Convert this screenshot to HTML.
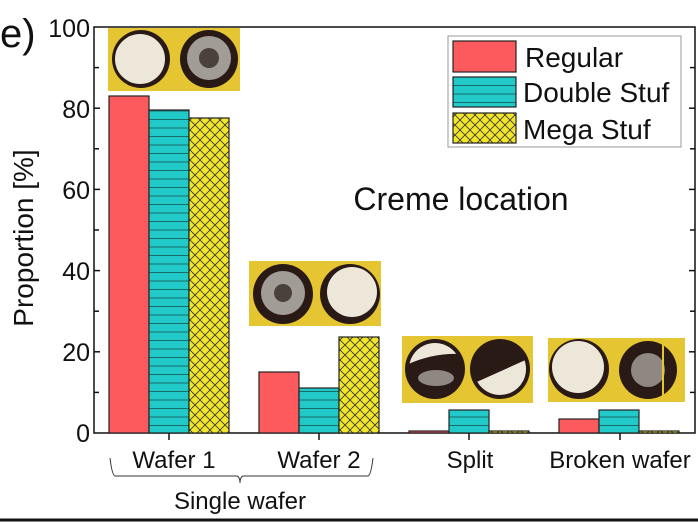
<!DOCTYPE html>
<html><head><style>body{margin:0;background:#fff}svg{display:block}text{font-family:"Liberation Sans",sans-serif;fill:#111}</style></head><body>
<svg width="698" height="522" viewBox="0 0 698 522" xmlns="http://www.w3.org/2000/svg">
<defs>
<pattern id="hz" width="8" height="8.5" patternUnits="userSpaceOnUse"><rect width="8" height="8.5" fill="#22c9c9"/><line x1="0" y1="0.5" x2="8" y2="0.5" stroke="#1b6a6a" stroke-width="1"/></pattern>
<pattern id="xh" width="10" height="10" patternUnits="userSpaceOnUse"><rect width="10" height="10" fill="#f2e62a"/><path d="M0,0L10,10M10,0L0,10" stroke="#333" stroke-width="0.8"/></pattern>
<clipPath id="c1"><circle cx="435" cy="369" r="26"/></clipPath>
<clipPath id="c2"><circle cx="500" cy="369" r="26"/></clipPath>
</defs>
<rect x="94" y="27" width="601" height="406" fill="none" stroke="#111" stroke-width="1.5"/>
<g stroke="#111" stroke-width="1.5">
<line x1="94" y1="67.6" x2="99" y2="67.6"/><line x1="94" y1="148.8" x2="99" y2="148.8"/><line x1="94" y1="230" x2="99" y2="230"/><line x1="94" y1="311.2" x2="99" y2="311.2"/><line x1="94" y1="392.4" x2="99" y2="392.4"/>
<line x1="94" y1="108.2" x2="100" y2="108.2"/><line x1="94" y1="189.4" x2="100" y2="189.4"/><line x1="94" y1="270.6" x2="100" y2="270.6"/><line x1="94" y1="351.8" x2="100" y2="351.8"/>
<line x1="690" y1="67.6" x2="695" y2="67.6"/><line x1="689" y1="108.2" x2="695" y2="108.2"/><line x1="690" y1="148.8" x2="695" y2="148.8"/><line x1="689" y1="189.4" x2="695" y2="189.4"/><line x1="690" y1="230" x2="695" y2="230"/><line x1="689" y1="270.6" x2="695" y2="270.6"/><line x1="690" y1="311.2" x2="695" y2="311.2"/><line x1="689" y1="351.8" x2="695" y2="351.8"/><line x1="690" y1="392.4" x2="695" y2="392.4"/>
<line x1="169" y1="433" x2="169" y2="440"/><line x1="319" y1="433" x2="319" y2="440"/><line x1="469" y1="433" x2="469" y2="440"/><line x1="620" y1="433" x2="620" y2="440"/>
</g>
<g font-size="25" text-anchor="end">
<text x="90" y="37">100</text><text x="90" y="118">80</text><text x="90" y="199">60</text><text x="90" y="280">40</text><text x="90" y="361">20</text><text x="90" y="442">0</text>
</g>
<text x="0" y="47" font-size="40">e)</text>
<text transform="translate(33,238) rotate(-90)" font-size="28" text-anchor="middle">Proportion [%]</text>
<g stroke="#222" stroke-width="1.2">
<rect x="109" y="96" width="40" height="337" fill="#fd5a5e"/>
<rect x="149" y="110" width="40" height="323" fill="url(#hz)"/>
<rect x="189" y="118" width="40" height="315" fill="url(#xh)"/>
<rect x="259" y="372" width="40" height="61" fill="#fd5a5e"/>
<rect x="299" y="388" width="40" height="45" fill="url(#hz)"/>
<rect x="339" y="337" width="40" height="96" fill="url(#xh)"/>
<rect x="409" y="431" width="40" height="2" fill="#fd5a5e"/>
<rect x="449" y="410" width="40" height="23" fill="url(#hz)"/>
<rect x="489" y="431" width="40" height="2" fill="url(#xh)"/>
<rect x="559" y="419" width="40" height="14" fill="#fd5a5e"/>
<rect x="599" y="410" width="40" height="23" fill="url(#hz)"/>
<rect x="639" y="431" width="40" height="2" fill="url(#xh)"/>
</g>
<g>
<rect x="108" y="28" width="132" height="63" fill="#e5c531"/>
<circle cx="141" cy="59" r="29" fill="#2a1a16"/><circle cx="140" cy="59" r="25" fill="#ede7da"/>
<circle cx="209" cy="59" r="29" fill="#2a1a16"/><circle cx="209" cy="58" r="22" fill="#a29c96"/><circle cx="209" cy="58" r="10" fill="#4a403c"/>
<rect x="249" y="261" width="132" height="65" fill="#e5c531"/>
<circle cx="283" cy="294" r="30" fill="#2a1a16"/><circle cx="283" cy="293" r="22" fill="#a29c96"/><circle cx="283" cy="293" r="9" fill="#4a403c"/>
<circle cx="350" cy="294" r="30" fill="#2a1a16"/><circle cx="352" cy="292" r="25" fill="#ede7da"/>
<rect x="402" y="336" width="131" height="67" fill="#e5c531"/>
<circle cx="435" cy="369" r="30" fill="#2a1a16"/><g clip-path="url(#c1)"><path d="M400,368 Q435,350 470,355 L470,330 L400,330Z" fill="#ede7da"/><ellipse cx="436" cy="378" rx="18" ry="8" fill="#8e8782"/></g>
<circle cx="500" cy="369" r="30" fill="#2a1a16"/><g clip-path="url(#c2)"><path d="M470,385 L530,358 L530,400 L470,400Z" fill="#ede7da"/></g>
<rect x="548" y="338" width="137" height="64" fill="#e5c531"/>
<circle cx="579" cy="369" r="30" fill="#2a1a16"/><circle cx="578" cy="367" r="26" fill="#ede7da"/>
<circle cx="648" cy="370" r="29" fill="#2a1a16"/><circle cx="648" cy="370" r="17" fill="#8e8782"/><line x1="663" y1="342" x2="663" y2="398" stroke="#e5c531" stroke-width="2"/>
</g>
<rect x="448" y="36" width="233" height="111" fill="#fff" stroke="#999" stroke-width="1"/>
<g stroke="#222" stroke-width="1.2">
<rect x="453" y="41" width="63" height="31" fill="#fd5a5e"/>
<rect x="453" y="77" width="63" height="30" fill="url(#hz)"/>
<rect x="453" y="113" width="63" height="30" fill="url(#xh)"/>
</g>
<g font-size="28"><text x="525" y="67">Regular</text><text x="523" y="102">Double Stuf</text><text x="523" y="139">Mega Stuf</text></g>
<text x="461" y="210" font-size="32" text-anchor="middle">Creme location</text>
<g font-size="24" text-anchor="middle">
<text x="174" y="468">Wafer 1</text><text x="319" y="468">Wafer 2</text><text x="470" y="468">Split</text><text x="620" y="468">Broken wafer</text>
<text x="240" y="509">Single wafer</text>
</g>
<path d="M110,458 Q112,475 115,476 L237,476 Q240,477 240,483 Q240,477 243,476 L368,476 Q371,475 373,458" fill="none" stroke="#333" stroke-width="1"/>
<line x1="0" y1="520" x2="698" y2="520" stroke="#111" stroke-width="3"/>
</svg>
</body></html>
